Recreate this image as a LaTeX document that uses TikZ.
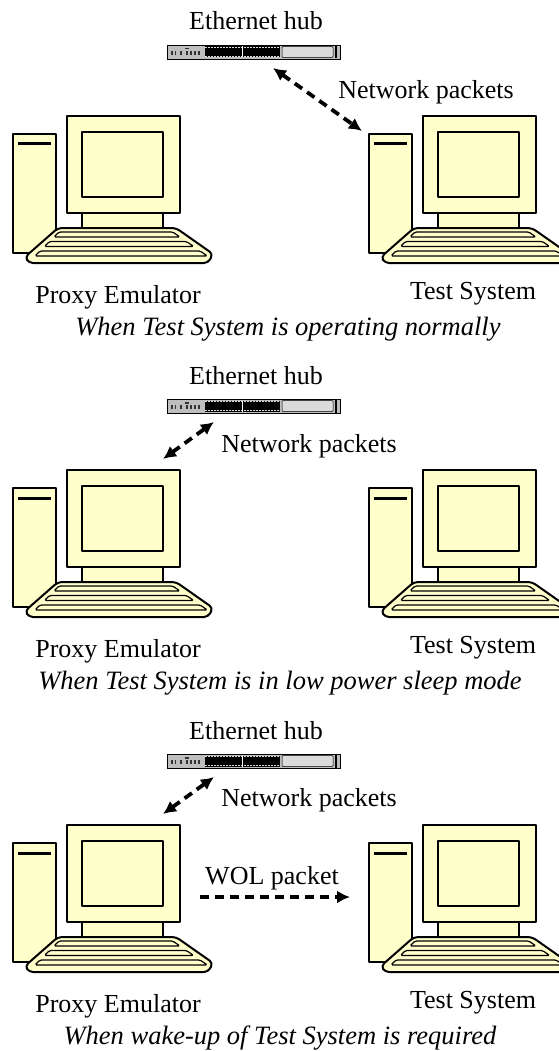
\documentclass[tikz,border=0pt]{standalone}
\usepackage{fontspec}
\setmainfont{Liberation Serif}
\usetikzlibrary{arrows.meta}

\definecolor{pcyellow}{RGB}{255,255,204}
\definecolor{hubgray}{RGB}{190,190,190}

\tikzset{
  part/.style={draw=black,fill=pcyellow,line width=2pt,line join=round},
  keyrow/.style={draw=black,fill=pcyellow,line width=1.2pt,rounded corners=1.5pt},
  packet/.style={line width=3.8pt,dash pattern=on 9pt off 6pt,-{Latex[length=13pt,width=13pt]}},
  packets/.style={packet,{Latex[length=13pt,width=13pt]}-{Latex[length=13pt,width=13pt]}},
  lbl/.style={font=\fontsize{26}{30}\selectfont,inner sep=0pt,anchor=base},
  captext/.style={lbl,font=\fontsize{26.5}{30}\selectfont\itshape},
  pc/.pic={
    \draw[part] (-54,18) rectangle (-11,137); % tower
    \draw[line width=3pt] (-49,28) -- (-16,28);
    \draw[part] (15,96) rectangle (96,112); % neck
    \draw[part] (0,0) rectangle (113,97); % monitor
    \draw[part] (15,16) rectangle (96,81);
    \draw[part,rounded corners=4pt] (-9,112) -- (109,112) -- (146,138) -- (141,147)
      -- (-38,147) -- (-42,141) -- cycle; % keyboard
    \foreach \k in {0,1,2} % key rows
      \draw[keyrow] ({-4-(4+9.5*\k)},{116+9.5*\k}) -- ({100+1.44*(4+9.5*\k)},{116+9.5*\k})
        -- ({100+1.44*(9+9.5*\k)},{121+9.5*\k}) -- ({-4-(9+9.5*\k)},{121+9.5*\k}) -- cycle;
    \coordinate (-tower) at (-61,15);
    \coordinate (-screen) at (96,-11);
    \coordinate (-left) at (-73,72);
    \coordinate (-right) at (133,72);
  },
  hub/.pic={
    \draw[fill=hubgray,line width=0.8pt] (0,0) rectangle (173,14);
    \fill[black] (38,1.5) rectangle (113,12.5); % ports
    \draw[hubgray!60!white,line width=0.8pt,dash pattern=on 2pt off 1pt] (38,2.5) -- (113,2.5) (38,11.5) -- (113,11.5);
    \draw[white,line width=0.8pt] (75.5,1.5) -- (75.5,12.5);
    \draw[fill=hubgray!55!white,line width=0.5pt,rounded corners=1pt] (115,1.5) rectangle (166,12.5);
    \draw[line width=2pt] (169,0.5) -- (169,13.5);
    \foreach \x/\w in {4/1.5,8/1,13/2,19/1.5,23/2,27/2,31/2}  % status lights
      \fill[black!80] (\x,6) rectangle ++(\w,4);
    \fill[black!80] (18,3) rectangle ++(4,1.5);
    \coordinate (-a) at (106,23);
    \coordinate (-b) at (47,23);
  },
}

\begin{document}
\begin{tikzpicture}[x=1pt,y=-1pt]
\useasboundingbox (0,0) rectangle (558,1051);
\foreach \p/\dy in {1/0,2/354,3/709} { % the three panels
  \node[lbl] (title\p) at (256,{30+\dy}) {Ethernet hub};
  \pic (hub\p) at (167,{45+\dy}) {hub};
  \pic (pe\p) at (67,{116+\dy}) {pc};
  \pic (ts\p) at (423,{116+\dy}) {pc};
  \node[lbl] (pename\p) at (118,{303+\dy}) {Proxy Emulator};
  \node[lbl] (tsname\p) at (473,{299+\dy}) {Test System};
}
% panel 1
\draw[packets] (hub1-a) -- (ts1-tower);
\node[lbl] (net1) at (426,99) {Network packets};
\node[captext] (cap1) at (288,335) {When Test System is operating normally};
% panel 2
\draw[packets] (pe2-screen) -- (hub2-b);
\node[lbl] (net2) at (309,452) {Network packets};
\node[captext] (cap2) at (280,689) {When Test System is in low power sleep mode};
% panel 3
\draw[packets] (pe3-screen) -- (hub3-b);
\node[lbl] (net3) at (309,806) {Network packets};
\draw[packet] (pe3-right) -- (ts3-left);
\node[lbl] (wol) at (272,884) {WOL packet};
\node[captext] (cap3) at (280,1044) {When wake-up of Test System is required};
\end{tikzpicture}
\end{document}
